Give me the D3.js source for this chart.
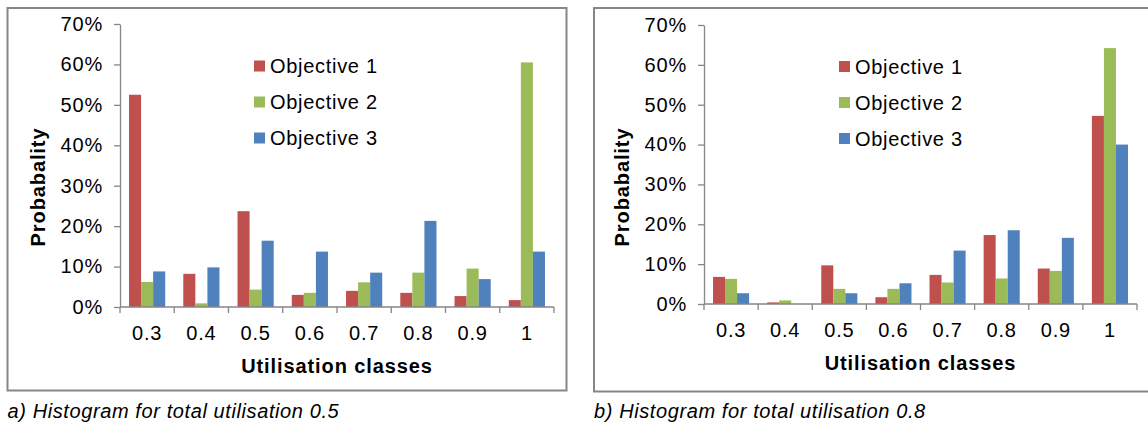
<!DOCTYPE html>
<html>
<head>
<meta charset="utf-8">
<script src="https://cdn.jsdelivr.net/npm/d3@7"></script>
<style>
  body { margin: 0; background: #fff; }
  svg text { font-family: "Liberation Sans", Arial, sans-serif; fill: #000; }
</style>
</head>
<body>
<svg id="chart" width="1148" height="424"></svg>
<script>
// categories and series
const classes = ["0.3", "0.4", "0.5", "0.6", "0.7", "0.8", "0.9", "1"];
const seriesNames = ["Objective 1", "Objective 2", "Objective 3"];
const seriesColors = ["#C0504D", "#9BBB59", "#4F81BD"];
const yTicks = [0, 0.1, 0.2, 0.3, 0.4, 0.5, 0.6, 0.7];

// a) total utilisation 0.5
const a_obj1 = [0.525, 0.082, 0.237, 0.030, 0.040, 0.035, 0.027, 0.017];
const a_obj2 = [0.062, 0.009, 0.043, 0.035, 0.061, 0.085, 0.095, 0.605];
const a_obj3 = [0.088, 0.098, 0.164, 0.137, 0.085, 0.213, 0.069, 0.137];

// b) total utilisation 0.8
const b_obj1 = [0.068, 0.004, 0.097, 0.017, 0.073, 0.173, 0.089, 0.472];
const b_obj2 = [0.063, 0.009, 0.038, 0.038, 0.054, 0.064, 0.083, 0.642];
const b_obj3 = [0.027, 0.000, 0.027, 0.052, 0.134, 0.185, 0.166, 0.400];

const svg = d3.select("#chart");
const axisColor = "#868686";

function drawPanel(cfg, values) {
  const g = svg.append("g");

  // frame round the chart
  g.append("rect")
    .attr("x", cfg.box[0]).attr("y", cfg.box[1])
    .attr("width", cfg.box[2]).attr("height", cfg.box[3])
    .attr("fill", "none")
    .attr("stroke", axisColor)
    .attr("stroke-width", 2);

  const x = d3.scaleBand()
    .domain(classes)
    .range([cfg.left, cfg.right]);

  const bw = x.bandwidth();
  const x1 = d3.scaleBand()
    .domain(seriesNames)
    .range([bw * 0.75 / 4.5, bw - bw * 0.75 / 4.5]);

  const y = d3.scaleLinear()
    .domain([0, 0.7])
    .range([cfg.bottom, cfg.top]);

  // y axis
  const yAxis = g.append("g")
    .attr("transform", `translate(${cfg.left},0)`)
    .call(d3.axisLeft(y).tickValues(yTicks).tickFormat(d3.format(".0%"))
      .tickSize(6).tickSizeOuter(0).tickPadding(11));
  yAxis.select(".domain").attr("stroke", axisColor).attr("stroke-width", 1.3);
  yAxis.selectAll(".tick line").attr("stroke", axisColor).attr("stroke-width", 1.3);
  yAxis.selectAll(".tick text")
    .attr("font-family", null)
    .style("font-size", "20px")
    .style("letter-spacing", "0.8px");

  // bars
  seriesNames.forEach((s, si) => {
    g.append("g").selectAll("rect")
      .data(values[si])
      .join("rect")
        .attr("x", (d, i) => x(classes[i]) + x1(s))
        .attr("y", d => y(d))
        .attr("width", x1.bandwidth())
        .attr("height", d => y(0) - y(d))
        .attr("fill", seriesColors[si]);
  });

  // x axis: line + ticks at category boundaries
  g.append("line")
    .attr("x1", cfg.left).attr("x2", cfg.right)
    .attr("y1", cfg.bottom).attr("y2", cfg.bottom)
    .attr("stroke", axisColor).attr("stroke-width", 1.3);

  const boundaries = classes.map(c => x(c)).concat([cfg.right]);
  g.append("g").selectAll("line")
    .data(boundaries)
    .join("line")
      .attr("x1", d => d).attr("x2", d => d)
      .attr("y1", cfg.bottom).attr("y2", cfg.bottom + 6)
      .attr("stroke", axisColor).attr("stroke-width", 1.3);

  g.append("g").selectAll("text")
    .data(classes)
    .join("text")
      .attr("x", d => x(d) + bw / 2)
      .attr("y", cfg.bottom + 33)
      .attr("text-anchor", "middle")
      .style("font-size", "20px")
      .style("letter-spacing", "0.8px")
      .text(d => d);

  // axis titles
  g.append("text")
    .attr("x", (cfg.left + cfg.right) / 2)
    .attr("y", cfg.bottom + 66)
    .attr("text-anchor", "middle")
    .style("font-size", "20px")
    .style("font-weight", "bold")
    .style("letter-spacing", "0.9px")
    .text("Utilisation  classes");

  g.append("text")
    .attr("transform", `translate(${cfg.left - 75},187) rotate(-90)`)
    .attr("text-anchor", "middle")
    .style("font-size", "20px")
    .style("font-weight", "bold")
    .style("letter-spacing", "0.9px")
    .text("Probabality");

  // legend
  const legend = g.append("g").selectAll("g")
    .data(seriesNames)
    .join("g")
      .attr("transform", (d, i) => `translate(${cfg.legendX},${cfg.legendY + i * 36})`);
  legend.append("rect")
    .attr("x", 0).attr("y", -5.5)
    .attr("width", 11).attr("height", 11)
    .attr("fill", (d, i) => seriesColors[i]);
  legend.append("text")
    .attr("x", 16).attr("y", 7)
    .style("font-size", "20px")
    .style("letter-spacing", "0.7px")
    .text(d => d);

  // caption under the frame
  svg.append("text")
    .attr("x", cfg.box[0])
    .attr("y", 418)
    .style("font-size", "20px")
    .style("font-style", "italic")
    .style("letter-spacing", "0.6px")
    .text(cfg.caption);
}

drawPanel({
  box: [7.5, 8, 559, 382.5],
  left: 120, right: 554, top: 24, bottom: 307,
  legendX: 254, legendY: 66,
  caption: "a) Histogram for total utilisation 0.5"
}, [a_obj1, a_obj2, a_obj3]);

drawPanel({
  box: [594, 8, 570, 383.5],
  left: 704, right: 1137, top: 25, bottom: 304,
  legendX: 839, legendY: 66.5,
  caption: "b) Histogram for total utilisation 0.8"
}, [b_obj1, b_obj2, b_obj3]);
</script>
</body>
</html>
